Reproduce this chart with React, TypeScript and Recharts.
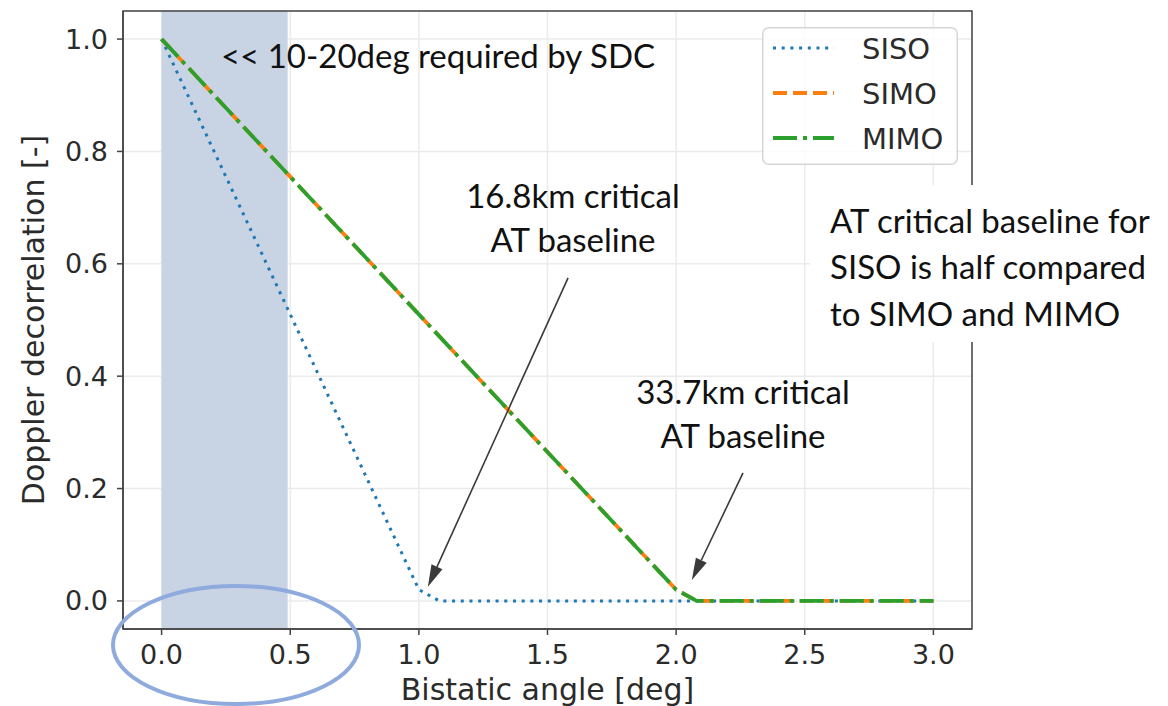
import React from 'react'
import {
  LineChart,
  Line,
  XAxis,
  YAxis,
  CartesianGrid,
  ReferenceArea,
  ReferenceLine,
  Legend,
} from 'recharts'

// bistatic angle [deg] vs doppler decorrelation
const sisoAngle = [0, 1.0, 1.08, 3.0]
const sisoValue = [1.0, 0.02, 0.0, 0.0]
const simoAngle = [0, 2.0, 2.08, 3.0]
const simoValue = [1.0, 0.02, 0.0, 0.0]
const mimoAngle = [0, 2.0, 2.08, 3.0]
const mimoValue = [1.0, 0.02, 0.0, 0.0]

const xTicks = [0, 0.5, 1.0, 1.5, 2.0, 2.5, 3.0]
const yTicks = [0, 0.2, 0.4, 0.6, 0.8, 1.0]
const xDomain = [-0.15, 3.15]
const yDomain = [-0.05, 1.05]

// shaded span: angles achievable vs. SDC requirement
const shadedSpan = [0, 0.49]

// arrows: [text end, tip]
const arrowSiso = [
  { x: 1.58, y: 0.575 },
  { x: 1.035, y: 0.025 },
]
const arrowSimo = [
  { x: 2.26, y: 0.228 },
  { x: 2.061, y: 0.037 },
]

const toPoints = (xs: number[], ys: number[]) =>
  xs.map((x, i) => ({ angle: x, value: ys[i] }))

const series = [
  { name: 'SISO', color: '#1f77b4', dash: '3 5.7', width: 3, data: toPoints(sisoAngle, sisoValue) },
  { name: 'SIMO', color: '#ff7f0e', dash: '14 6', width: 3.8, data: toPoints(simoAngle, simoValue) },
  { name: 'MIMO', color: '#2ca02c', dash: '24 6 4 6', width: 3.8, data: toPoints(mimoAngle, mimoValue) },
]

const W = 1168
const H = 706
const axisFont = 'DejaVu Sans'
const noteFont = 'Lato'
const ink = '#2b2b2b'
const frame = '#444'

function Arrow(props: any) {
  const { x1, y1, x2, y2 } = props
  const dx = x2 - x1
  const dy = y2 - y1
  const len = Math.hypot(dx, dy) || 1
  const ux = dx / len
  const uy = dy / len
  const headLen = 22
  const headW = 6
  const bx = x2 - ux * headLen
  const by = y2 - uy * headLen
  const px = -uy * headW
  const py = ux * headW
  return (
    <g>
      <line x1={x1} y1={y1} x2={bx} y2={by} stroke="#3a3a3a" strokeWidth={1.6} />
      <polygon
        points={`${x2},${y2} ${bx + px},${by + py} ${bx - px},${by - py}`}
        fill="#3a3a3a"
      />
    </g>
  )
}

function LegendBox() {
  return (
    <svg width={196} height={138} style={{ display: 'block' }}>
      <rect
        x={0.75}
        y={0.75}
        width={194.5}
        height={136.5}
        rx={6}
        fill="#fff"
        fillOpacity={0.85}
        stroke="#d6d6d6"
        strokeWidth={1.5}
      />
      {series.map((s, i) => {
        const cy = 21 + i * 45
        return (
          <g key={s.name}>
            <line
              x1={11}
              y1={cy}
              x2={72}
              y2={cy}
              stroke={s.color}
              strokeWidth={s.width}
              strokeDasharray={s.dash}
            />
            <text x={100} y={cy + 10.5} fontFamily={axisFont} fontSize={29} fill={ink}>
              {s.name}
            </text>
          </g>
        )
      })}
    </svg>
  )
}

export default function App() {
  return (
    <div style={{ position: 'absolute', left: 0, top: 0, width: W, height: H, background: '#fff' }}>
      <LineChart width={W} height={H} margin={{ top: 11, right: 196, bottom: 0, left: 23 }}>
        <ReferenceArea
          x1={shadedSpan[0]}
          x2={shadedSpan[1]}
          y1={yDomain[0]}
          y2={yDomain[1]}
          fill="#c8d3e4"
          fillOpacity={1}
          ifOverflow="visible"
        />
        <CartesianGrid stroke="#ebebeb" strokeWidth={1.5} />
        <XAxis
          type="number"
          dataKey="angle"
          domain={xDomain}
          ticks={xTicks}
          allowDataOverflow
          height={77}
          tickSize={6}
          tickMargin={10}
          tickFormatter={(v) => v.toFixed(1)}
          tick={{ fontFamily: axisFont, fontSize: 27, fill: ink }}
          tickLine={{ stroke: frame, strokeWidth: 1.5 }}
          axisLine={{ stroke: frame, strokeWidth: 1.5 }}
          label={{
            value: 'Bistatic angle [deg]',
            position: 'insideBottom',
            offset: 6,
            style: { fontFamily: axisFont, fontSize: 30, fill: ink },
          }}
        />
        <YAxis
          type="number"
          domain={yDomain}
          ticks={yTicks}
          allowDataOverflow
          width={100}
          tickSize={6}
          tickMargin={9}
          tickFormatter={(v) => v.toFixed(1)}
          tick={{ fontFamily: axisFont, fontSize: 27, fill: ink }}
          tickLine={{ stroke: frame, strokeWidth: 1.5 }}
          axisLine={{ stroke: frame, strokeWidth: 1.5 }}
          label={{
            value: 'Doppler decorrelation [-]',
            angle: -90,
            position: 'insideLeft',
            offset: 10,
            style: { fontFamily: axisFont, fontSize: 30, fill: ink, textAnchor: 'middle' },
          }}
        />
        <ReferenceArea
          x1={xDomain[0]}
          x2={xDomain[1]}
          y1={yDomain[0]}
          y2={yDomain[1]}
          fill="none"
          stroke={frame}
          strokeWidth={1.5}
          ifOverflow="visible"
        />
        {series.map((s) => (
          <Line
            key={s.name}
            data={s.data}
            dataKey="value"
            name={s.name}
            type="linear"
            stroke={s.color}
            strokeWidth={s.width}
            strokeDasharray={s.dash}
            dot={false}
            activeDot={false}
            isAnimationActive={false}
          />
        ))}
        <ReferenceLine segment={arrowSiso} shape={<Arrow />} ifOverflow="visible" />
        <ReferenceLine segment={arrowSimo} shape={<Arrow />} ifOverflow="visible" />
        <Legend
          layout="vertical"
          align="center"
          verticalAlign="middle"
          content={() => <LegendBox />}
          wrapperStyle={{ left: 762, top: 27, width: 196, height: 138 }}
        />
      </LineChart>

      <svg
        width={W}
        height={H}
        style={{ position: 'absolute', left: 0, top: 0, pointerEvents: 'none' }}
      >
        <rect x={810} y={185} width={358} height={157} fill="#fff" />
        <g fontFamily={noteFont} fontSize={33} fill="#111">
          <text x={438} y={68} textAnchor="middle">
            {'<< 10-20deg required by SDC'}
          </text>
          <text x={573} y={208} textAnchor="middle">
            16.8km critical
          </text>
          <text x={573} y={252} textAnchor="middle">
            AT baseline
          </text>
          <text x={743} y={404} textAnchor="middle">
            33.7km critical
          </text>
          <text x={743} y={448} textAnchor="middle">
            AT baseline
          </text>
          <text x={830} y={233}>AT critical baseline for</text>
          <text x={830} y={279}>SISO is half compared</text>
          <text x={830} y={326}>to SIMO and MIMO</text>
        </g>
        <ellipse cx={236} cy={645} rx={123} ry={59} fill="none" stroke="#8faadc" strokeWidth={4} />
      </svg>
    </div>
  )
}
